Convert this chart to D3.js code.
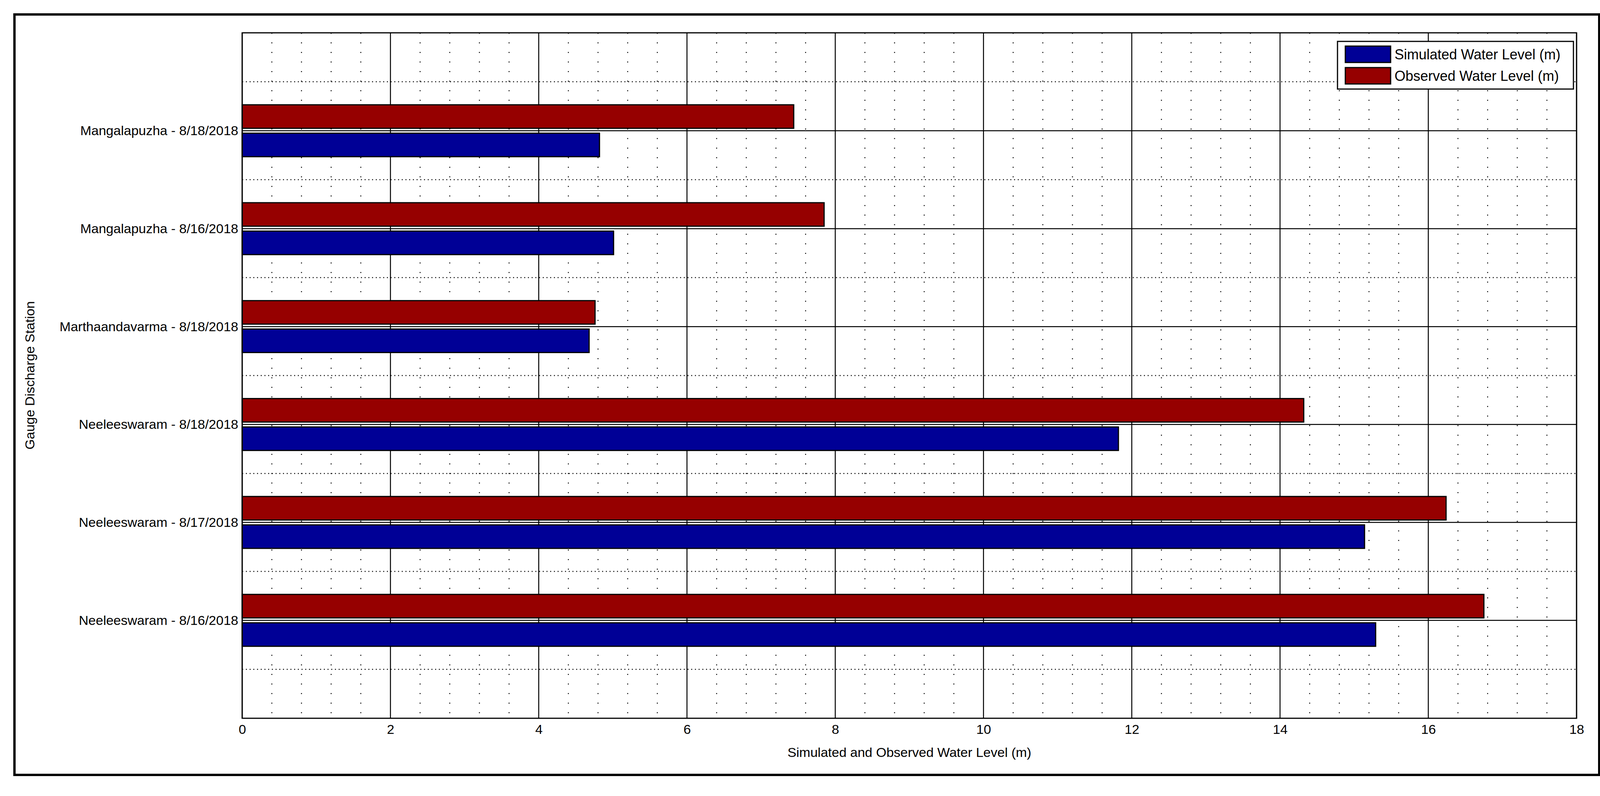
<!DOCTYPE html>
<html><head><meta charset="utf-8">
<script src="https://cdn.jsdelivr.net/npm/d3@7"></script>
<style>body{margin:0;background:#fff}svg text{font-family:"Liberation Sans Narrow","Arial Narrow","Liberation Sans",sans-serif;fill:#000}</style>
</head><body>
<script>
const stations = ["Neeleeswaram - 8/16/2018","Neeleeswaram - 8/17/2018","Neeleeswaram - 8/18/2018","Marthaandavarma - 8/18/2018","Mangalapuzha - 8/16/2018","Mangalapuzha - 8/18/2018"];
const simulated = [15.29, 15.14, 11.82, 4.68, 5.01, 4.82];
const observed = [16.75, 16.24, 14.32, 4.76, 7.85, 7.44];
const xTicks = [0,2,4,6,8,10,12,14,16,18];
const seriesNames = ["Simulated Water Level (m)","Observed Water Level (m)"];
const colors = ["#000096","#960000"];

const W=4137,H=2038;
const svg=d3.select("body").append("svg").attr("width",W).attr("height",H);
svg.append("rect").attr("x",37).attr("y",37).attr("width",4057).attr("height",1947).attr("fill","#fff").attr("stroke","#000").attr("stroke-width",6);
const L=620,R=4036,T=84,B=1839;
const x=d3.scaleLinear().domain([0,18]).range([L,R]);
const y=d3.scaleLinear().domain([0,7]).range([B,T]);
const g=svg.append("g");
// minor vertical grid
const minor=d3.range(0,18.001,0.4).filter(v=>Math.abs(v/2-Math.round(v/2))>1e-6);
g.selectAll(".mv").data(minor).join("line").attr("x1",d=>x(d)).attr("x2",d=>x(d)).attr("y1",T).attr("y2",B).attr("stroke","#000").attr("stroke-width",2.5).attr("stroke-dasharray","2.5 22");
g.selectAll(".mh").data(d3.range(0.5,7,1)).join("line").attr("x1",L).attr("x2",R).attr("y1",d=>y(d)).attr("y2",d=>y(d)).attr("stroke","#000").attr("stroke-width",2.5).attr("stroke-dasharray","2.5 7");
g.selectAll(".Mv").data(xTicks).join("line").attr("x1",d=>x(d)).attr("x2",d=>x(d)).attr("y1",T).attr("y2",B).attr("stroke","#000").attr("stroke-width",2.5);
g.selectAll(".Mh").data(d3.range(1,7)).join("line").attr("x1",L).attr("x2",R).attr("y1",d=>y(d)).attr("y2",d=>y(d)).attr("stroke","#000").attr("stroke-width",2.5);
// bars
const bh=0.24, off=0.025;
stations.forEach((s,i)=>{
  const c=i+1;
  g.append("rect").attr("x",x(0)).attr("width",x(observed[i])-x(0)).attr("y",y(c+off+bh)).attr("height",y(c+off)-y(c+off+bh)).attr("fill",colors[1]).attr("stroke","#000").attr("stroke-width",3);
  g.append("rect").attr("x",x(0)).attr("width",x(simulated[i])-x(0)).attr("y",y(c-off)).attr("height",y(c-off-bh)-y(c-off)).attr("fill",colors[0]).attr("stroke","#000").attr("stroke-width",3);
});
svg.append("rect").attr("x",L).attr("y",T).attr("width",R-L).attr("height",B-T).attr("fill","none").attr("stroke","#000").attr("stroke-width",3);
// axes
const xa=svg.append("g").attr("transform",`translate(0,${B})`).call(d3.axisBottom(x).tickValues(xTicks).tickSize(0).tickPadding(16).tickFormat(d3.format("d")));
xa.select(".domain").remove();
xa.selectAll("text").attr("font-size",34);
const ya=svg.append("g").attr("transform",`translate(${L},0)`).call(d3.axisLeft(y).tickValues(d3.range(1,7)).tickSize(0).tickPadding(10).tickFormat(d=>stations[d-1]));
ya.select(".domain").remove();
ya.selectAll("text").attr("font-size",34);
svg.append("text").attr("x",(L+R)/2).attr("y",1938).attr("text-anchor","middle").attr("font-size",34).text("Simulated and Observed Water Level (m)");
svg.append("text").attr("transform","translate(88,961) rotate(-90)").attr("text-anchor","middle").attr("font-size",34).text("Gauge Discharge Station");
// legend
const lg=svg.append("g");
lg.append("rect").attr("x",3424).attr("y",106).attr("width",604).attr("height",122).attr("fill","#fff").attr("stroke","#000").attr("stroke-width",3);
seriesNames.forEach((n,i)=>{
  const yy=118+i*55;
  lg.append("rect").attr("x",3444).attr("y",yy).attr("width",116).attr("height",42).attr("fill",colors[i]).attr("stroke","#000").attr("stroke-width",3);
  lg.append("text").attr("x",3570).attr("y",yy+34).attr("font-size",36).text(n);
});
</script></body></html>
